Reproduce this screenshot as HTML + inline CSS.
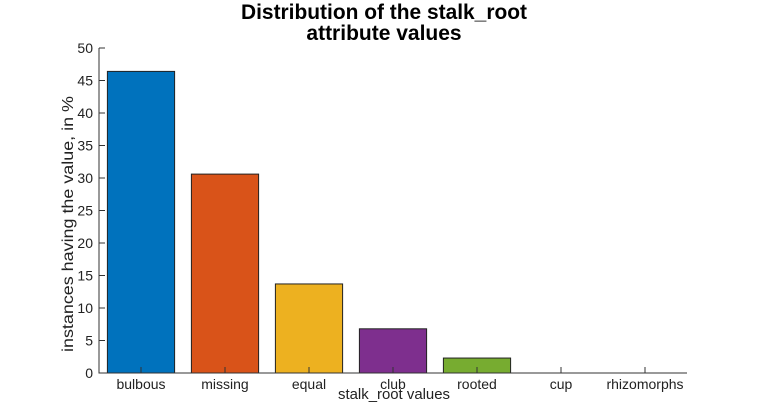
<!DOCTYPE html>
<html><head><meta charset="utf-8"><style>
body{margin:0;background:#fff;}
svg{display:block;font-family:"Liberation Sans",sans-serif;}
</style></head><body>
<svg id="c" width="760" height="420"></svg>
<script>
const categories=["bulbous","missing","equal","club","rooted","cup","rhizomorphs"];
const values=[46.4,30.6,13.7,6.8,2.3,0,0];
const colors=["#0072BD","#D95319","#EDB120","#7E2F8E","#77AC30","#4DBEEE","#A2142F"];
const yTicks=[0,5,10,15,20,25,30,35,40,45,50];
const NS="http://www.w3.org/2000/svg";
const svg=document.getElementById('c');
const X0=99,X1=687,Y0=373,Y1=48;
const xs=i=>X0+(i+0.5)*(X1-X0)/categories.length;
const ys=v=>Y0-v*(Y0-Y1)/50;
function mk(t,a,txt){const e=document.createElementNS(NS,t);for(const k in a)e.setAttribute(k,a[k]);if(txt!=null)e.textContent=txt;svg.appendChild(e);return e;}
const bw=0.8*(X1-X0)/categories.length;
values.forEach((v,i)=>{
 if(v>0){const r=mk('rect',{x:xs(i)-bw/2,y:ys(v),width:bw,height:Y0-ys(v),fill:colors[i],stroke:'#222','stroke-width':1});
 
 }
 const tk=mk('line',{x1:xs(i),x2:xs(i),y1:Y0,y2:Y0-6,stroke:'#333'});
 
 
 const t=mk('text',{x:xs(i),y:Y0+16,'text-anchor':'middle','font-size':14,fill:'#222'},categories[i]);
 
 
});
yTicks.forEach(v=>{
 const l=mk('line',{x1:X0,x2:X0+6,y1:ys(v),y2:ys(v),stroke:'#333'});
 
 
 const t=mk('text',{x:X0-6,y:ys(v)+5,'text-anchor':'end','font-size':14,fill:'#222'},v);
 
 
});
const ax=mk('path',{d:`M${X0},${Y1}V${Y0}H${X1}`,fill:'none',stroke:'#333'});


const xt=mk('text',{x:394,y:399,'text-anchor':'middle','font-size':15,fill:'#222',textLength:112,lengthAdjust:'spacingAndGlyphs'},'stalk_root values');


const yt=mk('text',{x:0,y:0,'text-anchor':'middle','font-size':16,fill:'#222',textLength:256,lengthAdjust:'spacingAndGlyphs',transform:'translate(73,224) rotate(-90)'},'instances having the value, in %');


const t1=mk('text',{x:384,y:19,'text-anchor':'middle','font-size':21,'font-weight':'bold',fill:'#000',textLength:286,lengthAdjust:'spacingAndGlyphs'},'Distribution of the stalk_root');


const t2=mk('text',{x:384,y:40,'text-anchor':'middle','font-size':21,'font-weight':'bold',fill:'#000'},'attribute values');


</script>
</body></html>
